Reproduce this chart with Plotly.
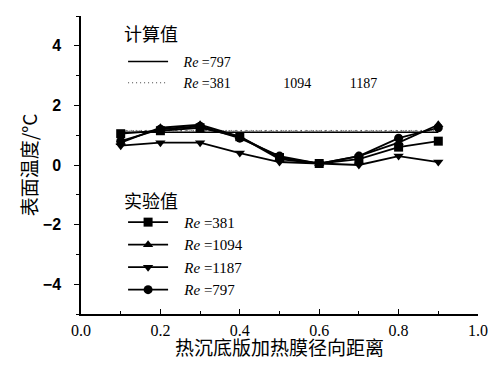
import plotly.graph_objects as go

x = [0.1, 0.2, 0.3, 0.4, 0.5, 0.6, 0.7, 0.8, 0.9]
re381 = [1.05, 1.15, 1.25, 0.95, 0.25, 0.05, 0.2, 0.6, 0.8]
re1094 = [0.75, 1.25, 1.35, 0.95, 0.2, 0.05, 0.3, 0.75, 1.35]
re1187 = [0.65, 0.75, 0.75, 0.4, 0.1, 0.05, 0.0, 0.3, 0.1]
re797 = [0.8, 1.2, 1.3, 0.9, 0.3, 0.05, 0.3, 0.9, 1.25]
calc_x = [0.1, 0.9]
calc797 = [1.1, 1.1]
calc381 = [1.14, 1.14]
calc1094 = [1.16, 1.16]
calc1187 = [1.15, 1.15]

sp = "&nbsp;"
fig = go.Figure()
# calculated
fig.add_trace(go.Scatter(x=calc_x, y=calc797, mode="lines", line=dict(color="black", width=1.5),
                         name=sp * 3 + "<i>Re</i> =797", legend="legend"))
for i, (c, d) in enumerate([(calc381, "1px,3px"), (calc1094, "1px,4px"), (calc1187, "1px,5px")]):
    fig.add_trace(go.Scatter(x=calc_x, y=c, mode="lines", line=dict(color="#444", width=1, dash=d),
                             name=sp * 3 + "<i>Re</i> =381" + sp * 15 + "1094" + sp * 11 + "1187",
                             showlegend=(i == 0), legend="legend"))
# experimental
for y, sym, nm in [(re381, "square", "381"), (re1094, "triangle-up", "1094"),
                   (re1187, "triangle-down", "1187"), (re797, "circle", "797")]:
    fig.add_trace(go.Scatter(x=x, y=y, mode="lines+markers",
                             line=dict(color="black", width=1.8),
                             marker=dict(symbol=sym, size=9, color="black"),
                             name=sp * 3 + "<i>Re</i> =" + nm, legend="legend2"))

serif = "Liberation Serif, Noto Sans CJK SC"
cjk = "Noto Sans CJK SC"
fig.update_layout(
    width=488, height=352,
    margin=dict(l=73, r=18, t=8, b=46),
    paper_bgcolor="white", plot_bgcolor="white",
    font=dict(family=serif, size=15, color="black"),
    legend=dict(x=0.106, y=0.8994, xanchor="left", yanchor="top",
                bgcolor="rgba(0,0,0,0)", tracegroupgap=0, itemwidth=40,
                font=dict(family=serif, size=14)),
    legend2=dict(x=0.106, y=0.3628, xanchor="left", yanchor="top",
                 bgcolor="rgba(0,0,0,0)", tracegroupgap=0, itemwidth=40,
                 font=dict(family=serif, size=15)),
    showlegend=True,
    annotations=[
        dict(text="计算值", xref="paper", yref="paper", x=0.103, y=0.943,
             xanchor="left", yanchor="middle", showarrow=False,
             font=dict(family=cjk, size=18, color="black")),
        dict(text="实验值", xref="paper", yref="paper", x=0.103, y=0.3826,
             xanchor="left", yanchor="middle", showarrow=False,
             font=dict(family=cjk, size=18, color="black")),
    ],
)
fig.update_xaxes(range=[0, 1.0], dtick=0.2, tick0=0, tickformat=".1f", automargin=False,
                 showline=True, linecolor="black", linewidth=1.5, mirror=False,
                 ticks="inside", ticklen=5, tickcolor="black",
                 minor=dict(dtick=0.1, ticks="inside", ticklen=3, tickcolor="black"),
                 showgrid=False, zeroline=False, ticklabelstandoff=1,
                 tickfont=dict(family=serif, size=16, color="black"),
                 title=dict(text="热沉底版加热膜径向距离", font=dict(family=cjk, size=19, color="black"), standoff=3))
fig.update_yaxes(range=[-5, 5], dtick=2, tick0=0, automargin=False,
                 showline=True, linecolor="black", linewidth=1.5, mirror=False,
                 ticks="outside", ticklen=5, tickcolor="black",
                 minor=dict(dtick=1, ticks="outside", ticklen=3, tickcolor="black"),
                 showgrid=False, zeroline=False, ticklabelstandoff=10,
                 tickfont=dict(family="Liberation Sans", size=16, weight="bold", color="black"),
                 title=dict(text="表面温度/°C", font=dict(family=cjk, size=19, color="black"), standoff=0))
fig.write_html("out.html")
